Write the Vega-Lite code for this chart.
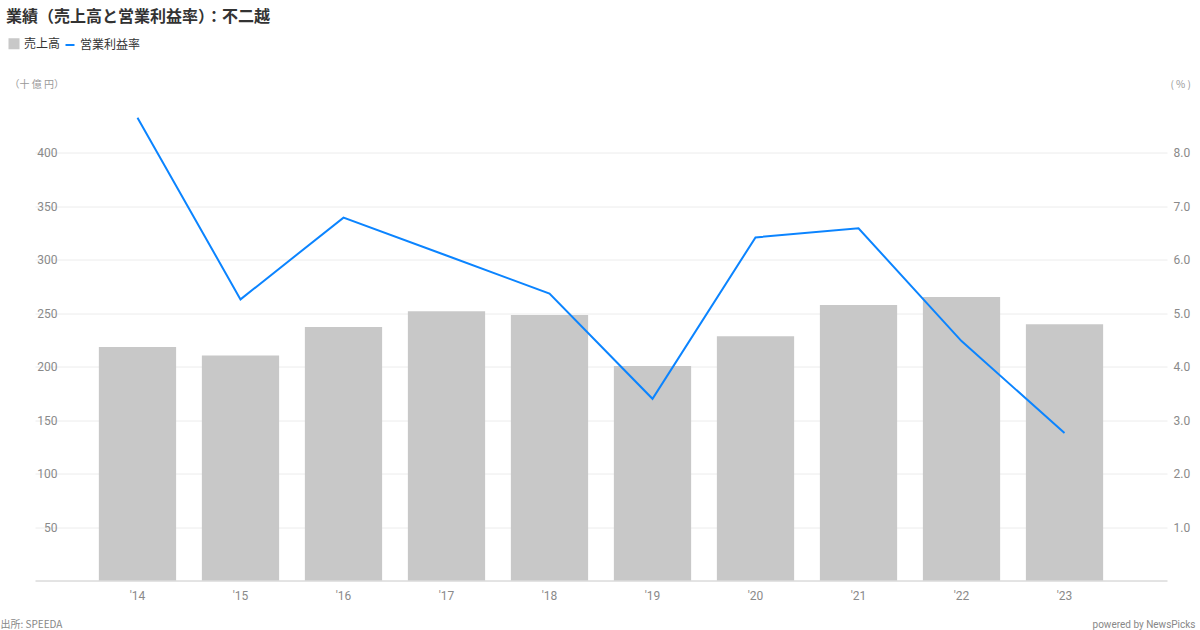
{
  "$schema": "https://vega.github.io/schema/vega-lite/v6.json",
  "width": 1132,
  "height": 481,
  "autosize": {"type": "none"},
  "padding": {"left": 35, "top": 99.5, "right": 33, "bottom": 49.5},
  "background": "white",
  "config": {
    "font": "Noto Sans CJK JP",
    "view": {"stroke": null},
    "axis": {"labelFont": "Roboto", "labelColor": "#8a8a8a", "labelFontSize": 12, "titleFont": "Noto Sans CJK JP", "titleColor": "#999", "titleFontWeight": "normal", "titleFontSize": 10}
  },
  "title": {
    "text": "業績（売上高と営業利益率）：不二越",
    "anchor": "start",
    "frame": "group",
    "fontSize": 16,
    "fontWeight": "bold",
    "color": "#333",
    "dx": -29,
    "offset": 13
  },
  "data": {
    "values": [
      {"year": "'14", "sales": 218.4, "margin": 8.66},
      {"year": "'15", "sales": 210.6, "margin": 5.26},
      {"year": "'16", "sales": 237.1, "margin": 6.79},
      {"year": "'17", "sales": 251.8, "margin": 6.08},
      {"year": "'18", "sales": 248.4, "margin": 5.37},
      {"year": "'19", "sales": 200.6, "margin": 3.40},
      {"year": "'20", "sales": 228.4, "margin": 6.42},
      {"year": "'21", "sales": 257.7, "margin": 6.59},
      {"year": "'22", "sales": 265.2, "margin": 4.48},
      {"year": "'23", "sales": 239.7, "margin": 2.76}
    ]
  },
  "encoding": {
    "x": {
      "field": "year",
      "type": "ordinal",
      "sort": null,
      "scale": {"paddingInner": 0.25, "paddingOuter": 0.62}
    }
  },
  "layer": [
    {
      "mark": {"type": "bar"},
      "encoding": {
        "x": {
          "field": "year",
          "type": "ordinal",
          "sort": null,
          "axis": {
            "labelAngle": 0,
            "ticks": false,
            "tickSize": 0,
            "labelPadding": 10,
            "domainColor": "#c8c8c8",
            "title": "出所: SPEEDA",
            "titleAngle": 0,
            "titleAlign": "left",
            "titleAnchor": null,
            "titleBaseline": "middle",
            "titleX": -35,
            "titleY": 44,
            "titleColor": "#888",
            "titleFontSize": 10
          }
        },
        "y": {
          "field": "sales",
          "type": "quantitative",
          "scale": {"domain": [0, 450]},
          "axis": {
            "values": [50, 100, 150, 200, 250, 300, 350, 400],
            "orient": "left",
            "ticks": false,
            "tickSize": 0,
            "domain": false,
            "labelAlign": "right",
            "labelPadding": -22,
            "gridColor": "#ececec",
            "title": "（十 億 円）",
            "titleAngle": 0,
            "titleAlign": "left",
            "titleAnchor": null,
            "titleBaseline": "middle",
            "titleX": -26,
            "titleY": -15.5
          }
        },
        "color": {
          "datum": "売上高",
          "type": "nominal",
          "scale": {"domain": ["売上高", "営業利益率"], "range": ["#c8c8c8", "#0b84ff"]},
          "legend": {
            "orient": "none",
            "direction": "horizontal",
            "legendX": -27,
            "legendY": -62,
            "title": null,
            "padding": 0,
            "labelFont": "Noto Sans CJK JP",
            "labelFontSize": 12,
            "labelColor": "#333",
            "labelOffset": 4,
            "columnPadding": 0,
            "symbolSize": 81,
            "symbolStrokeWidth": 2,
            "encode": {
              "symbols": {
                "update": {
                  "shape": {"signal": "datum.value === '売上高' ? 'square' : 'stroke'"},
                  "fill": {"signal": "datum.value === '売上高' ? '#c8c8c8' : 'transparent'"},
                  "stroke": {"signal": "datum.value === '売上高' ? 'transparent' : '#0b84ff'"},
                  "strokeWidth": {"value": 2},
                  "opacity": {"value": 1}
                }
              }
            }
          }
        }
      }
    },
    {
      "mark": {"type": "line", "strokeWidth": 2},
      "encoding": {
        "x": {
          "field": "year",
          "type": "ordinal",
          "sort": null,
          "axis": {
            "orient": "bottom",
            "labels": false,
            "ticks": false,
            "domain": false,
            "grid": false,
            "title": "powered by NewsPicks",
            "titleAngle": 0,
            "titleAlign": "right",
            "titleAnchor": null,
            "titleBaseline": "middle",
            "titleX": 1160,
            "titleY": 44,
            "titleColor": "#888",
            "titleFont": "Roboto",
            "titleFontSize": 10
          }
        },
        "y": {
          "field": "margin",
          "type": "quantitative",
          "scale": {"domain": [0, 9]},
          "axis": {
            "values": [1, 2, 3, 4, 5, 6, 7, 8],
            "format": ".1f",
            "orient": "right",
            "ticks": false,
            "tickSize": 0,
            "domain": false,
            "grid": false,
            "labelPadding": 6,
            "title": "( % )",
            "titleAngle": 0,
            "titleAlign": "left",
            "titleAnchor": null,
            "titleBaseline": "middle",
            "titleX": 3,
            "titleY": -15.5
          }
        },
        "color": {"datum": "営業利益率", "type": "nominal"}
      }
    }
  ],
  "resolve": {"scale": {"y": "independent"}, "axis": {"x": "independent"}}
}
